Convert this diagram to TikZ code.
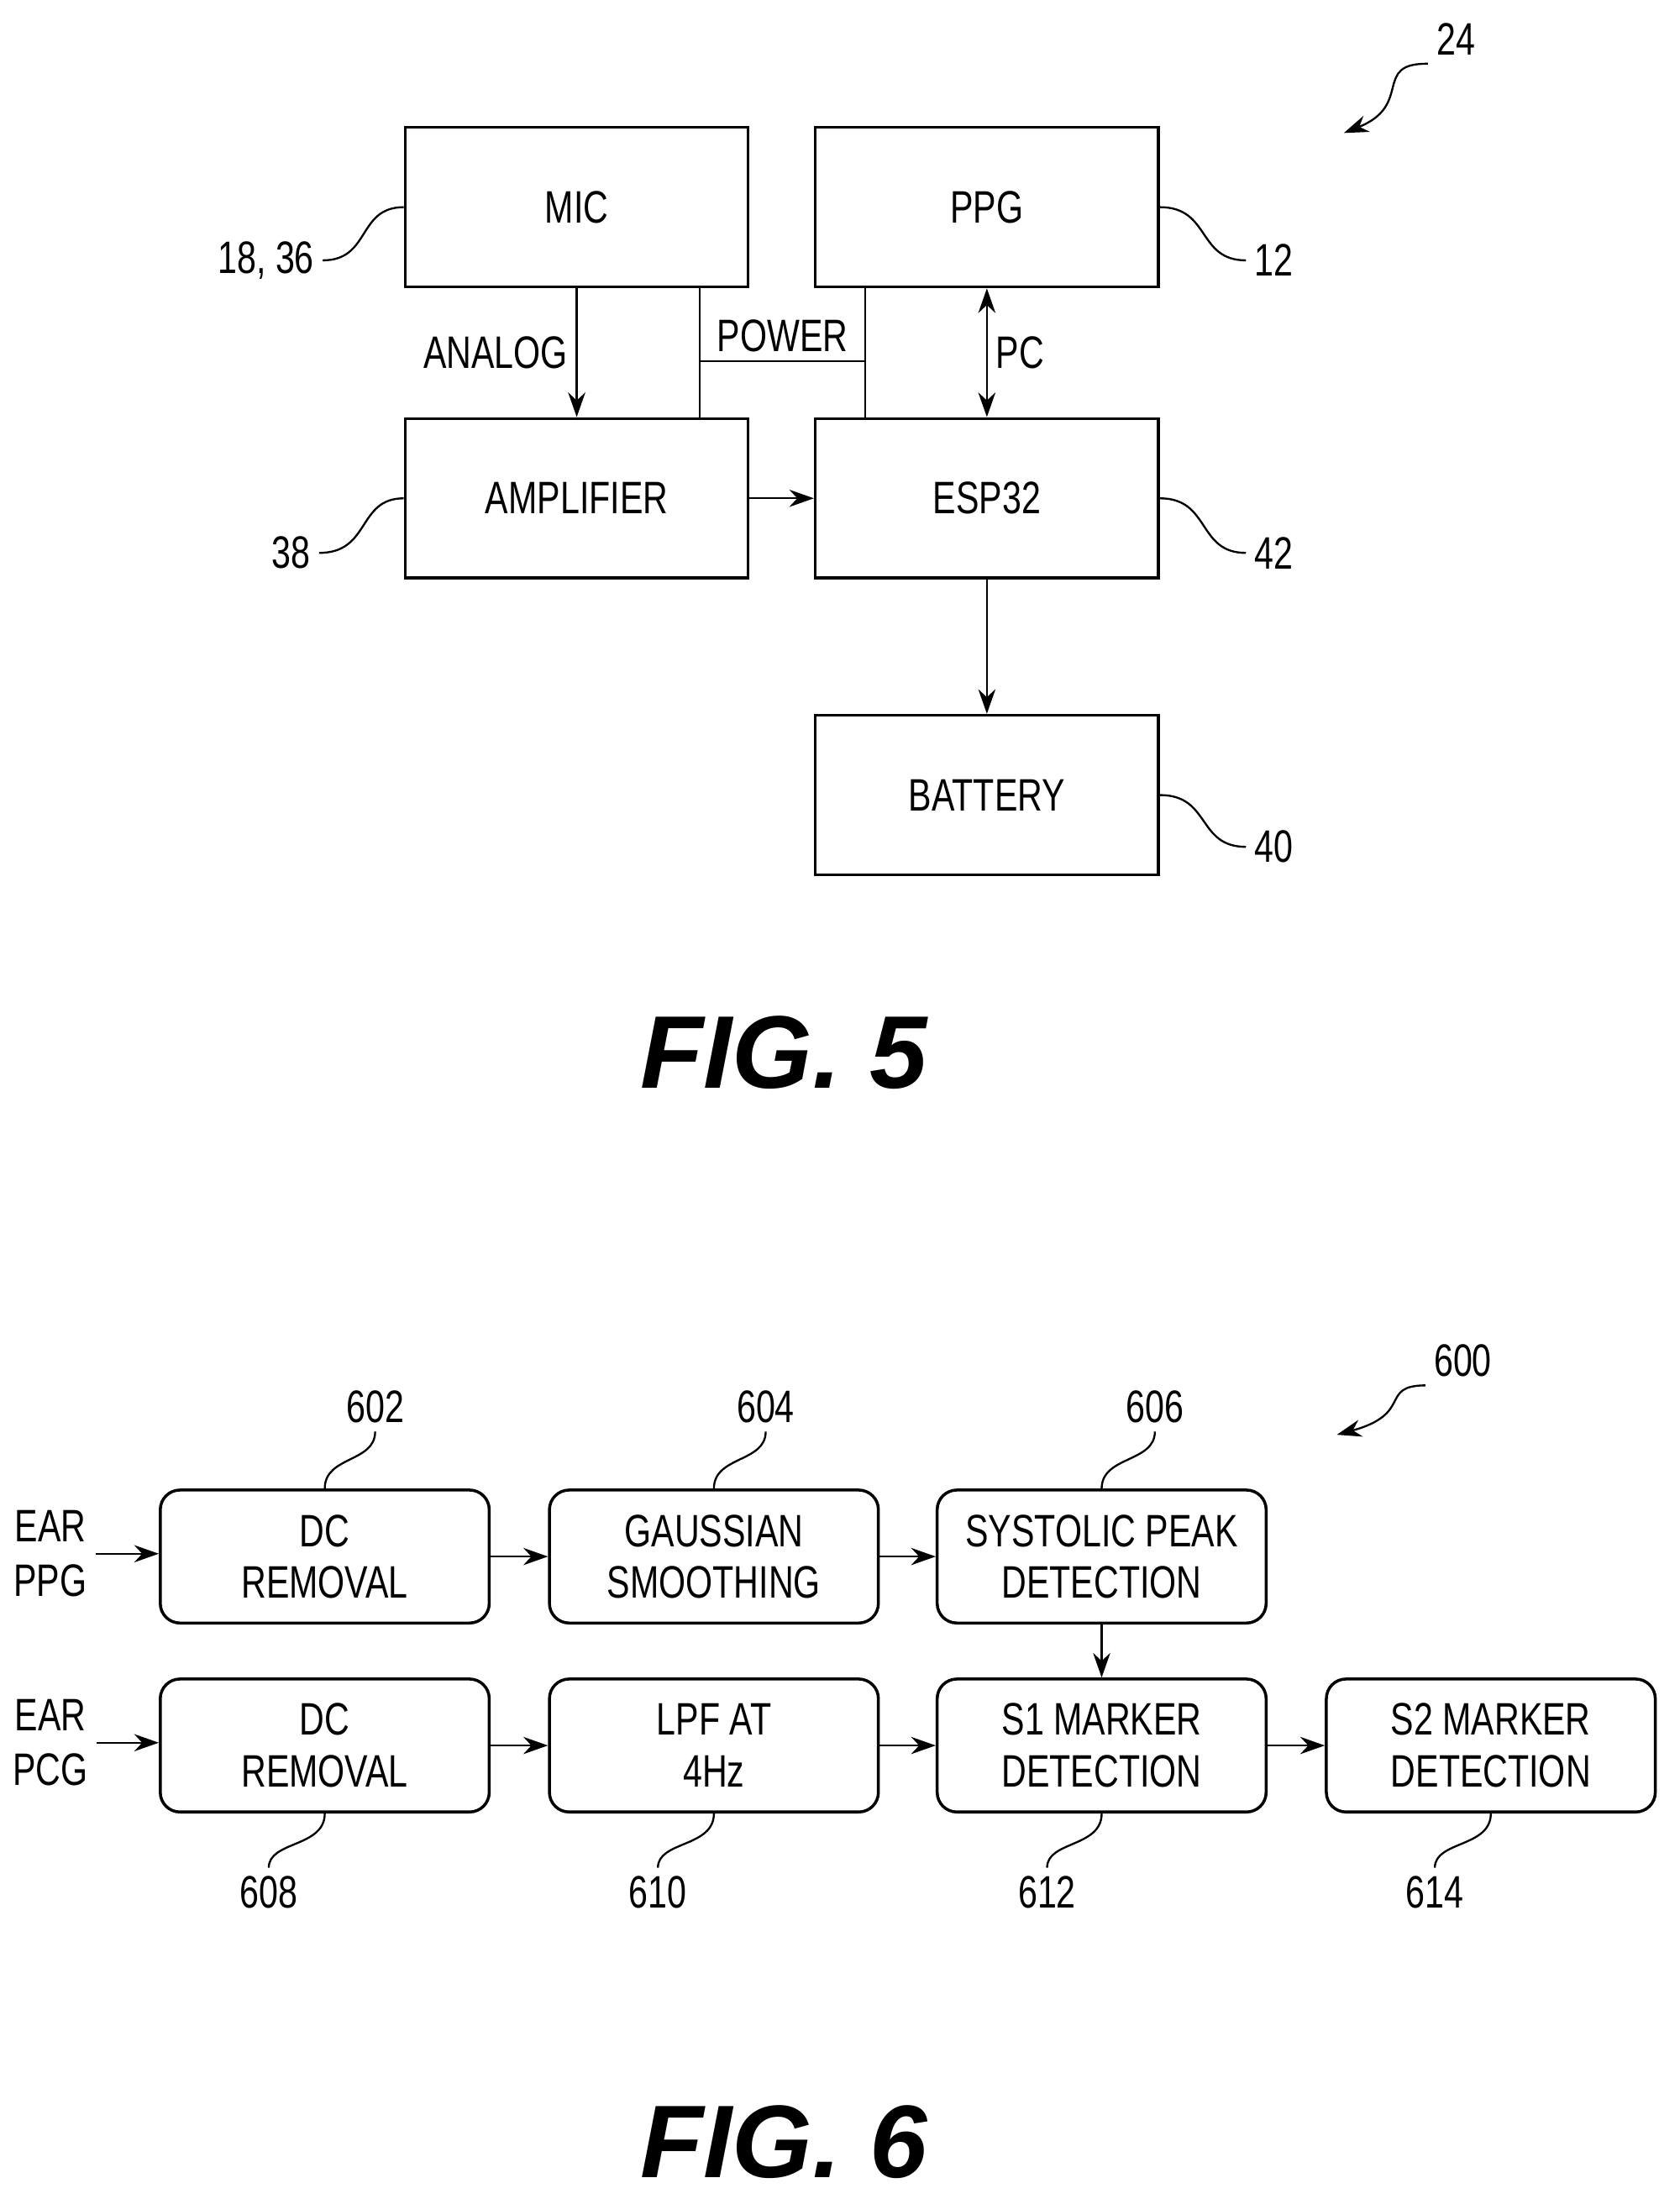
\documentclass[tikz,border=0pt]{standalone}
\usepackage{fontspec}
\setmainfont[FakeStretch=0.76]{Liberation Sans}
\newfontfamily\figfont{Liberation Sans}
\usetikzlibrary{arrows.meta,positioning}
\begin{document}
\begin{tikzpicture}[
                        x=0.02cm, y=-0.02cm,
                        >={Stealth[length=10pt,width=7pt]},
                        blk/.style={rectangle, draw, line width=1.2pt, minimum width=245*0.02cm, minimum height=114*0.02cm, font=\fontsize{18.5}{22}\selectfont, align=center},
                        rblk/.style={rectangle, rounded corners=8pt, draw, line width=1.2pt, inner xsep=0pt, minimum width=235*0.02cm, minimum height=95*0.02cm, font=\fontsize{18.5}{21}\selectfont, align=center},
                        lbl/.style={font=\fontsize{18.5}{22}\selectfont},
                        fig/.style={font=\figfont\fontsize{42}{46}\selectfont\bfseries\itshape}
                    ]
                    \useasboundingbox (0,0) rectangle (1200,1571);
                    % Blocks (FIG. 5)
                    \node [blk] (mic) at (412,148) {MIC};
                    \node [blk] (ppg) at (705,148) {PPG};
                    \node [blk] (amp) at (412,356) {AMPLIFIER};
                    \node [blk] (esp) at (705,356) {ESP32};
                    \node [blk] (bat) at (705,568) {BATTERY};
                    \coordinate (pwrl) at (500,258);
                    \coordinate (pwrr) at (618,258);

                    % Connections
                    \draw [->, thick] (mic.south) --node[left, lbl]{ANALOG} (amp.north);
                    \draw [thick] (mic.south -| pwrl) -- (amp.north -| pwrl);
                    \draw [thick] (ppg.south -| pwrr) -- (esp.north -| pwrr);
                    \draw [thick] (pwrl) --node[above, lbl]{POWER} (pwrr);
                    \draw [<->, thick] (ppg.south) --node[right, lbl]{PC} (esp.north);
                    \draw [->, thick] (amp.east) -- (esp.west);
                    \draw [->, thick] (esp.south) -- (bat.north);

                    % Reference labels
                    \node [lbl] (r1836) at (190,186) {18, 36};
                    \node [lbl] (r12) at (910,186) {12};
                    \node [lbl] (r38) at (208,395) {38};
                    \node [lbl] (r42) at (910,395) {42};
                    \node [lbl] (r40) at (910,605) {40};
                    \node [lbl] (r24) at (1040,28) {24};
                    \draw [thick] (mic.west) .. controls (255,148) and (265,186) .. (r1836.east);
                    \draw [thick] (ppg.east) .. controls (865,148) and (855,186) .. (r12.west);
                    \draw [thick] (amp.west) .. controls (255,356) and (265,395) .. (r38.east);
                    \draw [thick] (esp.east) .. controls (865,356) and (855,395) .. (r42.west);
                    \draw [thick] (bat.east) .. controls (865,568) and (855,605) .. (r40.west);
                    \draw [->, thick] (r24.south west) .. controls (980,45) and (1010,75) .. (960,95);
                    \node [fig] (fig5) at (560,752) {FIG. 5};

                    % Blocks (FIG. 6)
                    \node [rblk] (dc1) at (232,1112) {DC\\REMOVAL};
                    \node [rblk] (gauss) at (510,1112) {GAUSSIAN\\SMOOTHING};
                    \node [rblk] (sys) at (787,1112) {SYSTOLIC PEAK\\DETECTION};
                    \node [rblk] (dc2) at (232,1247) {DC\\REMOVAL};
                    \node [rblk] (lpf) at (510,1247) {LPF AT\\4Hz};
                    \node [rblk] (s1) at (787,1247) {S1 MARKER\\DETECTION};
                    \node [rblk] (s2) at (1065,1247) {S2 MARKER\\DETECTION};
                    \node [lbl, align=center] (eppg) at (36,1110) {EAR\\PPG};
                    \node [lbl, align=center] (epcg) at (36,1245) {EAR\\PCG};

                    % Connections
                    \draw [->, thick] (eppg.east) -- (eppg.east -| dc1.west);
                    \draw [->, thick] (epcg.east) -- (epcg.east -| dc2.west);
                    \draw [->, thick] (dc1) -- (gauss);
                    \draw [->, thick] (gauss) -- (sys);
                    \draw [->, thick] (dc2) -- (lpf);
                    \draw [->, thick] (lpf) -- (s1);
                    \draw [->, thick] (s1) -- (s2);
                    \draw [->, thick] (sys) -- (s1);

                    % Reference labels
                    \node [lbl] (r602) at (268,1005) {602};
                    \node [lbl] (r604) at (547,1005) {604};
                    \node [lbl] (r606) at (825,1005) {606};
                    \node [lbl] (r608) at (192,1352) {608};
                    \node [lbl] (r610) at (470,1352) {610};
                    \node [lbl] (r612) at (748,1352) {612};
                    \node [lbl] (r614) at (1025,1352) {614};
                    \node [lbl] (r600) at (1045,972) {600};
                    \draw [thick] (dc1.north) .. controls (232,1040) and (268,1045) .. (r602.south);
                    \draw [thick] (gauss.north) .. controls (510,1040) and (547,1045) .. (r604.south);
                    \draw [thick] (sys.north) .. controls (787,1040) and (825,1045) .. (r606.south);
                    \draw [thick] (dc2.south) .. controls (232,1320) and (192,1315) .. (r608.north);
                    \draw [thick] (lpf.south) .. controls (510,1320) and (470,1315) .. (r610.north);
                    \draw [thick] (s1.south) .. controls (787,1320) and (748,1315) .. (r612.north);
                    \draw [thick] (s2.south) .. controls (1065,1320) and (1025,1315) .. (r614.north);
                    \draw [->, thick] (r600.south west) .. controls (985,990) and (1010,1010) .. (955,1025);
                    \node [fig] (fig6) at (560,1530) {FIG. 6};
                \end{tikzpicture}
\end{document}
